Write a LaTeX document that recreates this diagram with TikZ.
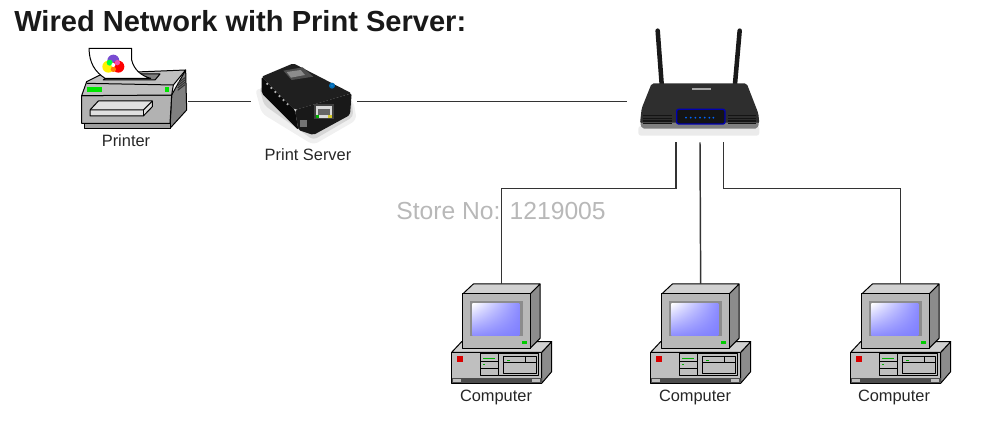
\documentclass[tikz,border=0pt]{standalone}
\usepackage{fontspec}
\setmainfont{Liberation Sans}
\usetikzlibrary{shadings}
\tikzset{
    lbl/.style={font=\fontsize{12.3}{14}\selectfont, text=black!85, inner sep=0pt},
    wire/.style={draw=black!80, line width=1.1pt},
    ol/.style={draw=black, line width=0.75pt, line join=round},
    printer/.pic={
        \begin{scope}[x=0.25pt,y=-0.25pt]
            \draw[ol, fill=black!50] (335,195) -- (377,120) -- (380,240) -- (330,295) -- cycle;
            \draw[ol, fill=black!38] (73,280) -- (330,280) -- (330,295) -- (73,295) -- cycle;
            \draw[ol, fill=black!30] (65,197) -- (335,195) -- (330,280) -- (65,280) -- cycle;
            \draw[ol, fill=black!25] (65,197) -- (80,155) -- (130,130) -- (377,120) -- (340,165) -- (335,195) -- cycle;
            \draw[ol] (80,160) -- (340,165);
            \fill[green!90!black] (80,170) rectangle (127,185);
            \fill[green!90!black] (315,170) rectangle (328,185);
            \draw[black!80, line width=0.8pt] (353,160) -- (375,143) (353,167) -- (375,150) (353,174) -- (375,157) (353,181) -- (375,164);
            \draw[ol, fill=black!50] (130,150) -- (285,150) -- (300,132) -- (150,132) -- cycle;
            \draw[ol, fill=white] (87,55) -- (215,55) -- (215,90) .. controls (222,120) and (245,138) .. (272,145) -- (135,145) .. controls (105,125) and (88,100) .. (87,55) -- cycle;
            \fill[blue!50!violet!70] (160,92) circle (18);
            \fill[yellow] (145,110) circle (18);
            \fill[red] (175,110) circle (18);
            \fill[green!75!cyan] (149,98) circle (9);
            \fill[magenta!70] (172,98) circle (8);
            \fill[orange] (160,118) circle (8);
            \fill[white] (160,105) circle (6);
            \draw[ol, fill=black!12] (90,240) -- (115,213) -- (277,213) -- (277,230) -- (250,258) -- (90,258) -- cycle;
            \draw[ol] (90,240) -- (250,240) -- (277,213);
            \draw[ol] (250,240) -- (250,258);
            \coordinate (-port) at (385,215);
        \end{scope}
    },
    server/.pic={
        \begin{scope}[x=0.25pt,y=-0.25pt]
            \fill[black!6, rounded corners=4pt] (585,175) -- (605,250) -- (760,345) -- (890,270) -- (880,210) -- cycle;
            \fill[black!16, rounded corners=3pt] (598,170) -- (612,225) -- (760,330) -- (880,260) -- (875,210) -- cycle;
            \fill[black!88, rounded corners=1.5pt] (605,140) -- (700,100) -- (875,190) -- (705,240) -- cycle;
            \fill[black!96, rounded corners=1.5pt] (605,140) -- (705,240) -- (715,300) -- (605,190) -- cycle;
            \fill[black!90, rounded corners=1.5pt] (705,240) -- (875,190) -- (870,255) -- (760,315) -- (715,300) -- cycle;
            \fill[black!70] (670,122) -- (728,112) -- (760,140) -- (695,150) -- cycle;
            \fill[black!45] (680,126) -- (722,120) -- (735,135) -- (693,143) -- cycle;
            \draw[black!30, line width=1.3pt, dash pattern=on 1.3pt off 3pt] (620,160) -- (692,232);
            \fill[black!75] (762,222) rectangle (822,268);
            \fill[black!15] (767,227) rectangle (817,263);
            \fill[black!60] (775,238) rectangle (809,256);
            \fill[green!70!black] (767,256) rectangle (778,264);
            \fill[yellow!80!black] (805,256) rectangle (816,264);
            \fill[black!55] (720,270) rectangle (740,292);
            \fill[blue!40!cyan!70!black] (816,167) circle (9);
            \fill[cyan!60!blue] (816,167) circle (4);
            \coordinate (-left) at (572,215);
            \coordinate (-right) at (892,215);
        \end{scope}
    },
    router/.pic={
        \begin{scope}[x=0.25pt,y=-0.25pt]
            \fill[black!8, rounded corners=2pt] (55,318) rectangle (418,347);
            \draw[black!90, line width=3.4pt, line cap=round] (113,32) -- (125,192);
            \draw[black!90, line width=3.4pt, line cap=round] (359,32) -- (345,192);
            \fill[black!82, rounded corners=1.5pt] (95,190) -- (380,190) -- (415,280) -- (418,310) -- (60,310) -- (65,265) -- cycle;
            \fill[black!50, rounded corners=1.5pt] (60,308) -- (418,308) -- (412,326) -- (66,326) -- cycle;
            \fill[black!35] (215,203) rectangle (272,209);
            \draw[blue!70!black, line width=1pt, fill=black!92, rounded corners=1.5pt] (170,268) rectangle (315,312);
            \foreach \px in {198,212,226,240,254,268,280}
                \fill[blue!60!cyan] (\px,293) circle (3);
            \foreach \py in {287,295,303,311}
                \draw[black!92, line width=0.8pt] (70,\py) -- (157,\py) (325,\py) -- (408,\py);
            \coordinate (-left) at (22,245);
            \coordinate (-a) at (168,367);
            \coordinate (-b) at (240,367);
            \coordinate (-c) at (310,367);
        \end{scope}
    },
    computer/.pic={
        \begin{scope}[x=0.25pt,y=-0.25pt]
            \draw[ol, fill=black!45] (305,247) -- (335,215) -- (335,305) -- (305,340) -- cycle;
            \draw[ol, fill=black!18] (35,247) -- (65,215) -- (335,215) -- (305,247) -- cycle;
            \draw[ol, fill=black!25] (35,247) rectangle (305,340);
            \fill[black!70] (35,325) rectangle (305,340);
            \fill[black!25] (38,327) rectangle (62,336);
            \fill[black!25] (275,327) rectangle (301,336);
            \fill[red!85!black] (50,258) rectangle (70,276);
            \draw[ol, fill=black!25] (120,252) rectangle (175,318);
            \draw[ol] (120,274) -- (175,274) (120,296) -- (175,296);
            \draw[green!70!black, line width=0.8pt] (130,266) -- (165,266);
            \fill[green!70!black] (130,282) rectangle (136,286);
            \draw[ol, fill=black!25] (175,252) rectangle (295,318);
            \draw[ol] (190,260) rectangle (288,310) (190,278) -- (288,278) (256,260) -- (256,278);
            \fill[green!70!black] (200,270) rectangle (210,274);
            \draw[ol, fill=black!45] (270,72) -- (300,42) -- (300,205) -- (270,235) -- cycle;
            \draw[ol, fill=black!18] (68,72) -- (100,42) -- (300,42) -- (270,72) -- cycle;
            \draw[ol, fill=black!28] (68,72) rectangle (270,235);
            \fill[black!45] (90,92) rectangle (248,198);
            \shade[upper left=white, upper right=blue!45, lower left=blue!45, lower right=blue!50] (97,100) rectangle (238,198);
            \fill[green!80!black] (247,212) rectangle (261,221);
            \coordinate (-top) at (185,42);
        \end{scope}
    }
}

\begin{document}
\begin{tikzpicture}[x=0.75pt,y=-0.75pt]
    \useasboundingbox (0,0) rectangle (1000,423);

    \node[anchor=base west, inner sep=0pt, text=black!90, font=\fontsize{21.8}{26}\selectfont\bfseries] (title) at (14,32) {Wired Network with Print Server:};
    \node[text=black!28, font=\fontsize{18.5}{22}\selectfont] (mark) at (501,211) {Store No: 1219005};

    \pic (prn) at (60,30) {printer};
    \pic (srv) at (60,30) {server};
    \pic (rtr) at (620,20) {router};
    \pic (pc1) at (440,270) {computer};
    \pic (pc2) at (639,270) {computer};
    \pic (pc3) at (839,270) {computer};

    \node[lbl] (prnlbl) at (126,141) {Printer};
    \node[lbl] (srvlbl) at (308,155) {Print Server};
    \node[lbl] (pc1lbl) at (496,397) {Computer};
    \node[lbl] (pc2lbl) at (695,397) {Computer};
    \node[lbl] (pc3lbl) at (894,397) {Computer};

    \draw[wire] (prn-port) -- (srv-left);
    \draw[wire] (srv-right) -- (rtr-left);
    \draw[wire] (rtr-a) -- ++(0,46) -| (pc1-top);
    \draw[wire] (rtr-b) -- (pc2-top);
    \draw[wire] (rtr-c) -- ++(0,46) -| (pc3-top);
\end{tikzpicture}
\end{document}
